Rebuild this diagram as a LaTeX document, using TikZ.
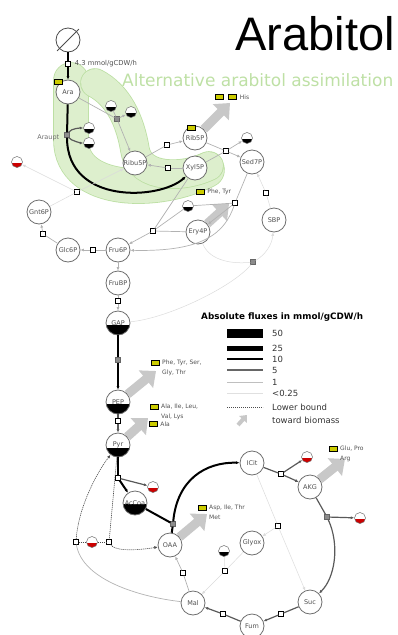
\documentclass[tikz,border=0pt]{standalone}
\usepackage{fontspec}
\setmainfont{DejaVu Sans}
\newfontfamily\titlefont{Liberation Sans}
\usetikzlibrary{arrows.meta,positioning,backgrounds}
\definecolor{metgray}{HTML}{6E6E6E}
\definecolor{txtgray}{HTML}{505050}
\definecolor{aayellow}{HTML}{CCCC00}
\definecolor{biogray}{HTML}{C8C8C8}
\definecolor{bandfill}{HTML}{DDEFCD}
\definecolor{bandedge}{HTML}{BCDFA3}
\definecolor{bandtext}{HTML}{BEE0A5}
\definecolor{co2red}{HTML}{CC0000}

\tikzset{
  met/.style={circle, draw=metgray, fill=white, line width=0.8pt, minimum size=24pt,
    inner sep=0pt, text=txtgray, font=\fontsize{6.5}{6.5}\selectfont},
  lvl/.style={path picture={\fill[black] (path picture bounding box.south west)
    rectangle ([yshift=#1]path picture bounding box.south east);}},
  cof/.style={circle, draw=metgray, fill=white, line width=0.5pt, minimum size=11pt,
    inner sep=0pt, path picture={\fill[#1] (path picture bounding box.south west)
    rectangle ([yshift=4.5pt]path picture bounding box.south east);}},
  rxn/.style={rectangle, draw=black, fill=white, line width=0.7pt, minimum size=4.5pt, inner sep=0pt},
  rxng/.style={rxn, draw=black!60, fill=black!45},
  aa/.style={rectangle, draw=black, fill=aayellow, line width=0.5pt, minimum width=8pt,
    minimum height=5pt, inner sep=0pt},
  lab/.style={inner sep=0pt, text=txtgray, font=\fontsize{6}{10}\selectfont, align=left},
  leg/.style={inner sep=0pt, anchor=west, text=black!80, font=\fontsize{8.5}{8.5}\selectfont},
  fx10/.style={line width=2pt, black},
  fx5/.style={line width=1.2pt, black!65},
  fx1/.style={line width=0.7pt, black!30},
  fx0/.style={line width=0.5pt, black!14},
  lb/.style={line width=0.6pt, black!70, dash pattern=on 1.2pt off 0.8pt},
  arr/.style={-{Latex[length=3.5pt,width=3pt]}},
  bio/.style={line width=9pt, draw=biogray, -{Triangle[length=13pt,width=22pt]}},
  band/.style={line width=0.8pt, draw=bandedge, double=bandfill, double distance=#1, line cap=round},
}

\begin{document}
\begin{tikzpicture}[x=1pt,y=-1pt]
  \useasboundingbox (0,0) rectangle (398,635);

  \node[anchor=base east, inner sep=0pt, font=\titlefont\fontsize{47}{47}\selectfont] (title) at (395,50) {Arabitol};
  \node[anchor=base west, inner sep=0pt, text=bandtext, font=\fontsize{17}{17}\selectfont] (alt) at (122,86) {Alternative arabitol assimilation};

  % uptake and arabitol branch
  \node[met, draw=black!70] (src) at (68,40) {};
  \draw[black!70, line width=0.8pt, shorten <=-3pt, shorten >=-3pt] (src.south west) -- (src.north east);
  \node[rxn] (upt) at (68,64) {};
  \node[lab, font=\fontsize{6.8}{6.8}\selectfont, right=4pt of upt] (uptl) {4.3 mmol/gCDW/h};
  \node[met] (ara) at (68,92) {Ara};
  \node[aa] (arab) at (58,82) {};
  \node[rxng] (araupt) at (67,135) {};
  \node[lab, text=metgray, font=\fontsize{6.5}{6.5}\selectfont, left=5pt of araupt, yshift=-3pt] (arauptl) {Araupt};
  \node[cof=black] (atp1) at (89,128) {};
  \node[cof=black] (atp2) at (89,143) {};
  \node[rxng] (ardh) at (117,119) {};
  \node[cof=black] (nad1) at (111,106) {};
  \node[cof=black] (nad2) at (131,112) {};

  % pentose phosphates
  \node[met] (ribu) at (135,163) {Ribu5P};
  \node[met] (rib) at (195,138) {Rib5P};
  \node[aa] (ribb) at (191,128) {};
  \node[met] (xyl) at (195,168) {Xyl5P};
  \node[rxn] (rpi) at (167,145) {};
  \node[rxn] (rpe) at (168,168) {};
  \node[rxn] (tkt1) at (226,151) {};
  \node[cof=black] (gap1) at (247,138) {};
  \node[met] (sed) at (252,162) {Sed7P};
  \node[rxn] (sbpase) at (266,193) {};
  \node[met] (sbp) at (274,220) {SBP};
  \node[rxn] (tal) at (235,203) {};
  \node[met] (ery) at (198,232) {Ery4P};
  \node[cof=black] (gap2) at (188,206) {};
  \node[rxn] (tkt2) at (153,231) {};
  \node[rxng] (sbpald) at (253,262) {};

  % upper glycolysis
  \node[met] (fru6) at (118,250) {Fru6P};
  \node[met] (glc) at (68,250) {Glc6P};
  \node[met] (gnt) at (39,212) {Gnt6P};
  \node[rxn] (pgi) at (93,250) {};
  \node[rxn] (zwf) at (43,234) {};
  \node[rxn] (gnd) at (77,192) {};
  \node[cof=co2red] (co2a) at (17,162) {};
  \node[met] (frubp) at (118,283) {FruBP};
  \node[rxn] (fba) at (118,301) {};
  \node[met, lvl=10pt] (gap) at (118,323) {GAP};
  \node[rxng] (eno) at (118,360) {};
  \node[met, lvl=10pt] (pep) at (118,402) {PEP};
  \node[rxn] (pyk) at (118,421) {};
  \node[met, lvl=9pt] (pyr) at (118,445) {Pyr};
  \node[rxn] (pdh) at (118,478) {};
  \node[cof=co2red] (co2b) at (153,487) {};
  \node[met, lvl=11pt] (accoa) at (135,503) {AcCoa};

  % anaplerosis and TCA cycle
  \node[rxn] (mae) at (76,542) {};
  \node[cof=co2red] (co2e) at (92,542) {};
  \node[rxn] (pyc) at (109,542) {};
  \node[rxng] (cs) at (173,524) {};
  \node[met] (oaa) at (170,545) {OAA};
  \node[met] (icit) at (252,463) {ICit};
  \node[rxn] (icd) at (281,474) {};
  \node[cof=co2red] (co2c) at (307,457) {};
  \node[met] (akg) at (310,487) {AKG};
  \node[rxng] (kgd) at (327,517) {};
  \node[cof=co2red] (co2d) at (360,518) {};
  \node[met] (suc) at (310,602) {Suc};
  \node[rxn] (sdh) at (281,614) {};
  \node[met] (fum) at (252,626) {Fum};
  \node[rxn] (fumr) at (223,614) {};
  \node[met] (mal) at (193,603) {Mal};
  \node[rxn] (mdh) at (183,573) {};
  \node[met] (glyox) at (252,543) {Glyox};
  \node[rxn] (icl) at (278,526) {};
  \node[cof=black] (acc2) at (224,551) {};
  \node[rxn] (mas) at (225,571) {};

  % toward biomass labels
  \node[aa] (hisb1) at (219,97) {};
  \node[aa, right=5pt of hisb1] (hisb2) {};
  \node[lab, right=3pt of hisb2] (hisl) {His};
  \node[aa] (pheb1) at (200,192) {};
  \node[lab, right=3pt of pheb1] (phel1) {Phe, Tyr};
  \node[aa] (pheb2) at (155,363) {};
  \node[lab, anchor=north west] (phel2) at (162,360) {Phe, Tyr, Ser,\\Gly, Thr};
  \node[aa] (alab1) at (154,407) {};
  \node[lab, anchor=north west] (alal1) at (161,404) {Ala, Ile, Leu,\\Val, Lys};
  \node[aa] (alab2) at (153,424) {};
  \node[lab, right=3pt of alab2] (alal2) {Ala};
  \node[aa] (aspb) at (202,508) {};
  \node[lab, anchor=north west] (aspl) at (209,505) {Asp, Ile, Thr\\Met};
  \node[aa] (glub) at (333,449) {};
  \node[lab, anchor=north west] (glul) at (340,446) {Glu, Pro\\Arg};
  \coordinate (bhis) at (230,103);
  \coordinate (bphe) at (229,204);
  \coordinate (bpep) at (156,371);
  \coordinate (bpyr) at (148,418);
  \coordinate (boaa) at (207,514);
  \coordinate (bakg) at (345,459);

  \begin{pgfonlayer}{background}
    \draw[band=34pt] (71,80) -- (71,140) .. controls (71,195) and (160,195) .. (207,170);
    \draw[band=28pt] (95,83) .. controls (118,95) and (130,120) .. (135,150)
      .. controls (140,180) and (185,178) .. (209,166);
    \draw[bio] (rib) -- (bhis);
    \draw[bio] (ery) -- (bphe);
    \draw[bio] (pep) -- (bpep);
    \draw[bio] (pyr) -- (bpyr);
    \draw[bio] (oaa) -- (boaa);
    \draw[bio] (akg) -- (bakg);
  \end{pgfonlayer}

  % fluxes
  \draw[fx10] (src) -- (upt);
  \draw[fx10,arr] (upt) -- (ara);
  \draw[fx10] (ara) -- (araupt);
  \draw[fx5,arr] (araupt) .. controls +(4,-7) and +(-7,0) .. (atp1);
  \draw[fx5,arr] (araupt) .. controls +(4,6) and +(-7,0) .. (atp2);
  \draw[fx10,arr] (araupt) .. controls (67,205) and (160,200) .. (xyl);
  \draw[fx1] (ara) -- (ardh);
  \draw[fx1] (nad1) -- (ardh);
  \draw[fx1,arr] (ardh) -- (nad2);
  \draw[fx1,arr] (ardh) -- (ribu);
  \draw[fx1] (ribu) -- (rpi);
  \draw[fx1,arr] (rpi) -- (rib);
  \draw[fx1] (xyl) -- (rpe);
  \draw[fx1,arr] (rpe) -- (ribu);
  \draw[fx1] (rib) -- (tkt1);
  \draw[fx1] (xyl) -- (tkt1);
  \draw[fx1,arr] (tkt1) -- (sed);
  \draw[fx1,arr] (tkt1) -- (gap1);
  \draw[fx1] (sed) -- (tal);
  \draw[fx1] (gap2) -- (tal);
  \draw[fx1,arr] (tal) -- (ery);
  \draw[fx1,arr] (tal) .. controls (225,232) and (205,252) .. (fru6);
  \draw[fx1] (xyl) -- (tkt2);
  \draw[fx1] (ery) -- (tkt2);
  \draw[fx1] (gap2) -- (tkt2);
  \draw[fx1,arr] (tkt2) -- (fru6);
  \draw[fx0] (sbp) -- (sbpase);
  \draw[fx0,arr] (sbpase) -- (sed);
  \draw[fx0] (ery) .. controls (210,262) and (235,264) .. (sbpald);
  \draw[fx0] (sbpald) .. controls (235,285) and (170,318) .. (gap);
  \draw[fx0,arr] (sbpald) .. controls (265,255) and (272,245) .. (sbp);
  \draw[fx1,arr] (fru6) -- (frubp);
  \draw[fx1] (frubp) -- (fba);
  \draw[fx1,arr] (fba) -- (gap);
  \draw[fx1] (fru6) -- (pgi);
  \draw[fx1,arr] (pgi) -- (glc);
  \draw[fx1] (glc) -- (zwf);
  \draw[fx1,arr] (zwf) -- (gnt);
  \draw[fx0] (gnt) -- (gnd);
  \draw[fx0,arr] (gnd) -- (ribu);
  \draw[fx0,arr] (gnd) -- (co2a);
  \draw[fx10] (gap) -- (eno);
  \draw[fx10,arr] (eno) -- (pep);
  \draw[fx5] (pep) -- (pyk);
  \draw[fx5,arr] (pyk) -- (pyr);
  \draw[fx10] (pyr) -- (pdh);
  \draw[fx10,arr] (pdh) -- (accoa);
  \draw[fx5,arr] (pdh) -- (co2b);
  \draw[fx10] (accoa) -- (cs);
  \draw[fx10] (oaa) -- (cs);
  \draw[fx10,arr] (cs) .. controls (177,480) and (205,462) .. (icit);
  \draw[fx5] (icit) -- (icd);
  \draw[fx5,arr] (icd) -- (akg);
  \draw[fx5,arr] (icd) -- (co2c);
  \draw[fx5] (akg) -- (kgd);
  \draw[fx5,arr] (kgd) .. controls (340,545) and (335,578) .. (suc);
  \draw[fx5,arr] (kgd) -- (co2d);
  \draw[fx5] (suc) -- (sdh);
  \draw[fx5,arr] (sdh) -- (fum);
  \draw[fx5] (fum) -- (fumr);
  \draw[fx5,arr] (fumr) -- (mal);
  \draw[fx1] (mal) -- (mdh);
  \draw[fx1,arr] (mdh) -- (oaa);
  \draw[fx0] (icit) -- (icl);
  \draw[fx0,arr] (icl) -- (suc);
  \draw[fx0,arr] (icl) -- (glyox);
  \draw[fx0] (glyox) -- (mas);
  \draw[fx0] (acc2) -- (mas);
  \draw[fx0,arr] (mas) -- (mal);
  \draw[fx1] (mal) .. controls (140,597) and (82,580) .. (mae);
  \draw[lb,arr] (mae) .. controls (78,510) and (95,475) .. (pyr);
  \draw[lb] (mae) -- (co2e);
  \draw[lb] (co2e) -- (pyc);
  \draw[lb] (pyr) -- (pyc);
  \draw[lb,arr] (pyc) .. controls (115,552) and (140,550) .. (oaa);

  % legend
  \node[anchor=base west, inner sep=0pt, font=\bfseries\fontsize{8.8}{8.8}\selectfont] (legt) at (201,319) {Absolute fluxes in mmol/gCDW/h};
  \foreach \yy/\lw/\cc/\txt in {333/9/black/50, 348/5/black/25, 359/2/black/10,
      370/1.3/black!60/5, 382/0.8/black!25/1, 393/0.6/black!12/{<0.25}} {
    \draw[line width=\lw pt, \cc] (227,\yy) -- (263,\yy);
    \node[leg] at (272,\yy) {\txt};
  }
  \draw[lb] (227,407) -- (263,407);
  \node[leg] at (272,407) {Lower bound};
  \draw[line width=4pt, biogray, -{Triangle[length=6pt,width=10pt]}] (238,425) -- (247,415);
  \node[leg] at (272,420) {toward biomass};
\end{tikzpicture}
\end{document}
